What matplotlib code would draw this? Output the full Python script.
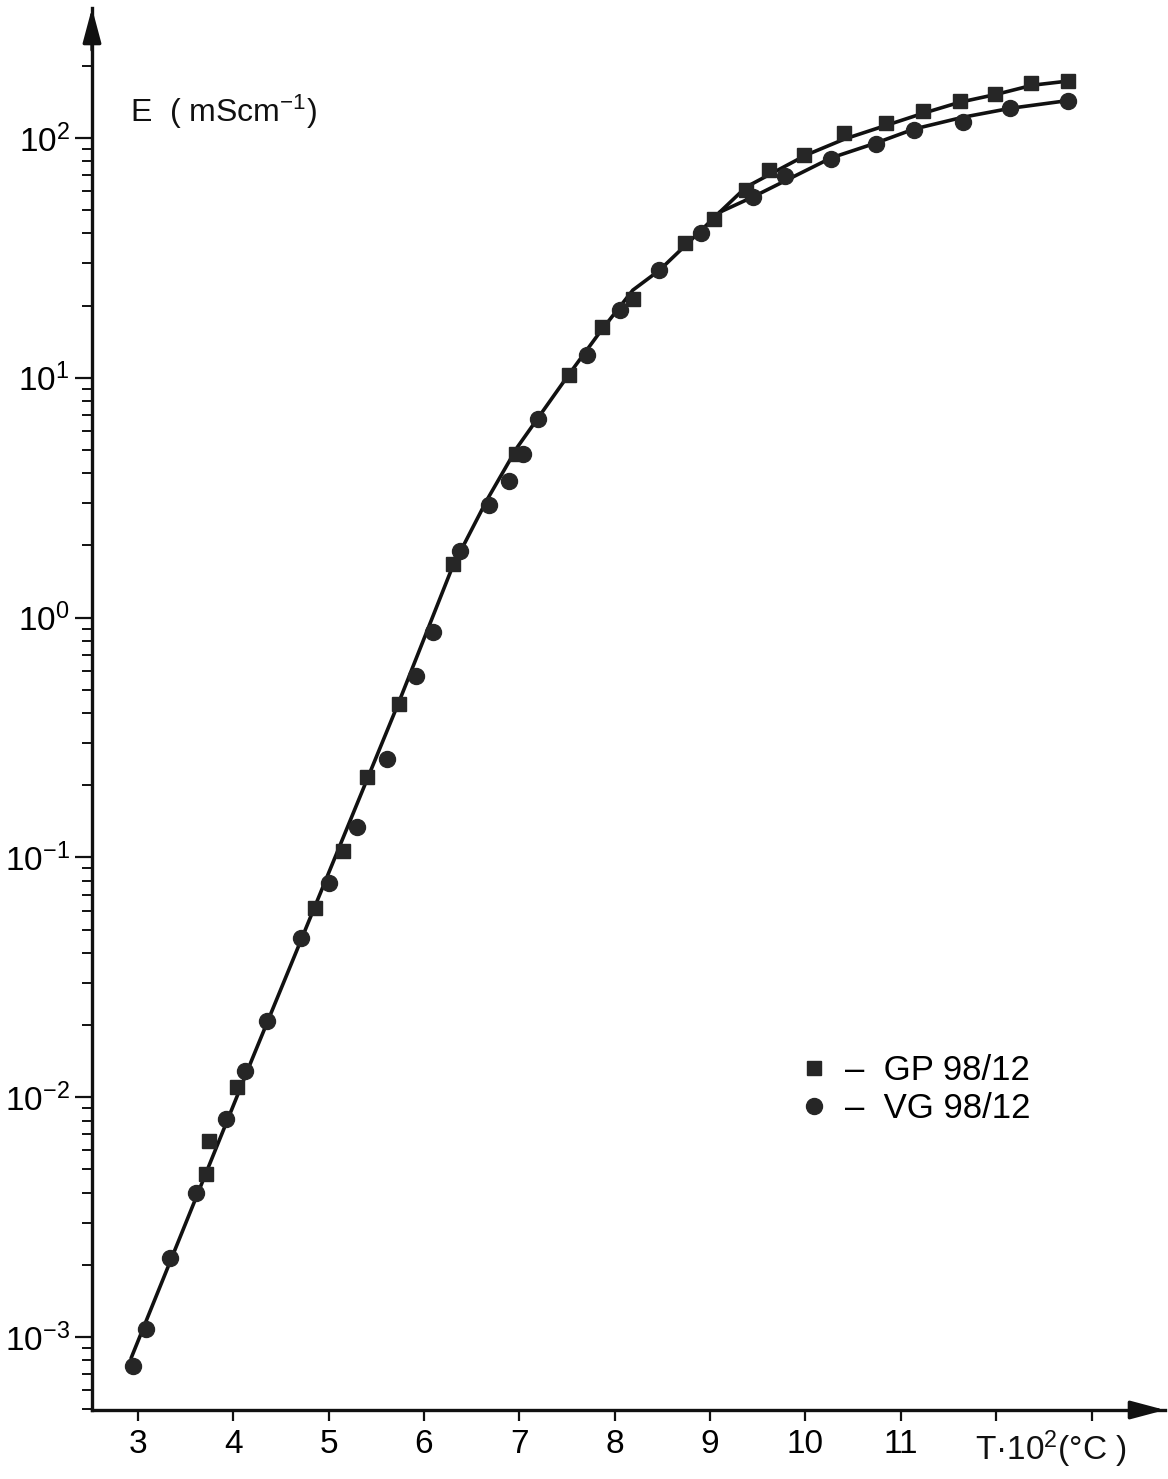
import matplotlib
matplotlib.use("Agg")
import matplotlib.pyplot as plt
from matplotlib.ticker import FixedLocator, FixedFormatter, NullFormatter

plt.rcParams.update({
    "font.family": ["Liberation Sans", "DejaVu Sans"],
    "mathtext.fontset": "custom",
    "mathtext.rm": "Liberation Sans",
    "mathtext.it": "Liberation Sans:italic",
    "mathtext.bf": "Liberation Sans:bold",
})

# --- Measured conductivity, T in units of 100 degC, E in mS/cm -------------
GP_T = [3.72, 3.75, 4.04, 4.86, 5.15, 5.40, 5.74, 6.31, 6.97, 7.52, 7.87,
        8.19, 8.74, 9.04, 9.38, 9.62, 9.98, 10.40, 10.84, 11.23, 11.62,
        11.99, 12.37, 12.75]
GP_E = [4.8e-3, 6.6e-3, 1.1e-2, 6.15e-2, 0.106, 0.216, 0.436, 1.67, 4.81,
        10.3, 16.3, 21.3, 36.5, 45.9, 60.7, 73.6, 85.0, 105.0, 115.0, 130.0,
        143.0, 152.0, 169.0, 173.0]

VG_T = [2.95, 3.09, 3.34, 3.61, 3.92, 4.12, 4.35, 4.71, 5.00, 5.30, 5.61,
        5.92, 6.10, 6.38, 6.68, 6.89, 7.04, 7.20, 7.71, 8.06, 8.46, 8.91,
        9.45, 9.79, 10.27, 10.74, 11.14, 11.65, 12.15, 12.75]
VG_E = [7.6e-4, 1.08e-3, 2.13e-3, 4.0e-3, 8.1e-3, 1.29e-2, 2.08e-2, 4.6e-2,
        7.8e-2, 0.134, 0.257, 0.57, 0.87, 1.90, 2.95, 3.72, 4.81, 6.73, 12.4,
        19.2, 28.2, 40.2, 56.8, 69.3, 81.6, 94.4, 108.0, 117.0, 133.0, 143.0]

# --- Hand-fitted curves: common lower branch, then one branch per sample ----
FIT_T = [2.93, 4.195, 5.746, 6.30, 6.66, 6.98, 7.50, 7.84, 8.19, 8.47, 8.89,
         9.10]
FIT_E = [8.17e-4, 1.43e-2, 0.453, 1.63, 3.09, 5.14, 10.07, 15.4, 23.2, 28.1,
         40.6, 49.0]
GP_FIT_T = [9.38, 10.01, 10.41, 10.85, 11.24, 11.62, 12.00, 12.38, 12.77]
GP_FIT_E = [62.5, 85.0, 99.0, 113.0, 127.0, 141.0, 152.0, 166.0, 173.0]
VG_FIT_T = [9.45, 10.27, 10.74, 11.14, 11.65, 12.15, 12.74]
VG_FIT_E = [56.8, 82.6, 95.3, 109.0, 122.0, 133.0, 143.0]

# --- Axes ------------------------------------------------------------------
X_TICKS = [3, 4, 5, 6, 7, 8, 9, 10, 11, 12, 13]
X_TICK_LABELS = ["3", "4", "5", "6", "7", "8", "9", "10", "11", "", ""]
Y_EXPONENTS = [-3, -2, -1, 0, 1, 2]
X_LO, X_HI = 2.52, 13.77
Y_LO, Y_HI = 10 ** -3.304, 10 ** 2.542

FS = 24
INK = "#111111"
MARK = "#262626"

fig = plt.figure(figsize=(11.68, 14.79), dpi=100)
ax = fig.add_axes([92 / 1168, 69 / 1479, 1073 / 1168, 1402 / 1479])

ax.plot(FIT_T + GP_FIT_T, FIT_E + GP_FIT_E, color=INK, lw=2.6, zorder=2,
        solid_capstyle="round", solid_joinstyle="round")
ax.plot(FIT_T[-1:] + VG_FIT_T, FIT_E[-1:] + VG_FIT_E, color=INK, lw=2.6,
        zorder=2, solid_capstyle="round", solid_joinstyle="round")

ax.plot(GP_T, GP_E, ls="none", marker="s", ms=10.5, color=MARK, mec=MARK,
        zorder=3, label="–  GP 98/12")
ax.plot(VG_T, VG_E, ls="none", marker="o", ms=11.5, color=MARK, mec=MARK,
        zorder=3, label="–  VG 98/12")

ax.set_yscale("log")
ax.set_xlim(X_LO, X_HI)
ax.set_ylim(Y_LO, Y_HI)

# major decades labelled, 2..9 minors below the arrow head only
y_major = [10.0 ** e for e in Y_EXPONENTS]
y_minor = [m * 10.0 ** e for e in range(-4, 3) for m in range(2, 10)
           if Y_LO * 0.999 <= m * 10.0 ** e <= 200]
ax.yaxis.set_major_locator(FixedLocator(y_major))
ax.yaxis.set_major_formatter(FixedFormatter(
    [r"$\mathregular{10^{%d}}$" % e for e in Y_EXPONENTS]))
ax.yaxis.set_minor_locator(FixedLocator(y_minor))
ax.yaxis.set_minor_formatter(NullFormatter())

ax.xaxis.set_major_locator(FixedLocator(X_TICKS))
ax.xaxis.set_major_formatter(FixedFormatter(X_TICK_LABELS))
ax.xaxis.set_minor_locator(FixedLocator([]))

for side in ("top", "right"):
    ax.spines[side].set_visible(False)
for side in ("left", "bottom"):
    ax.spines[side].set_linewidth(2.4)
    ax.spines[side].set_color(INK)

ax.tick_params(axis="y", which="major", direction="out", length=12, width=1.6,
               labelsize=FS, pad=4, color=INK)
ax.tick_params(axis="y", which="minor", direction="out", length=7, width=1.4,
               color=INK)
ax.tick_params(axis="x", which="major", direction="out", length=8, width=1.6,
               labelsize=FS, pad=6, color=INK)

# arrow heads on both axes
arrow = dict(arrowstyle="-|>,head_length=1.05,head_width=0.28", color=INK,
             lw=2.4, mutation_scale=20, shrinkA=0, shrinkB=0)
ax.annotate("", xy=(0, 1), xytext=(0, 0.97), xycoords="axes fraction",
            arrowprops=arrow, annotation_clip=False)
ax.annotate("", xy=(1, 0), xytext=(0.97, 0), xycoords="axes fraction",
            arrowprops=arrow, annotation_clip=False)

fig.text(130 / 1168, 1 - 122 / 1479, r"E  ( mScm$^{-1}$)", fontsize=23,
         ha="left", va="baseline", color=INK)
fig.text(975 / 1168, 1 - 1460 / 1479, r"T·10$^{2}$(°C )", fontsize=FS,
         ha="left", va="baseline", color=INK)

ax.legend(loc="upper left", bbox_to_anchor=(800 / 1168, 1 - 1054 / 1479),
          bbox_transform=fig.transFigure, frameon=False, fontsize=25,
          handlelength=0.8, handletextpad=0.5, labelspacing=0.15,
          borderpad=0, borderaxespad=0)

fig.savefig("out.png", dpi=100, facecolor="white")
